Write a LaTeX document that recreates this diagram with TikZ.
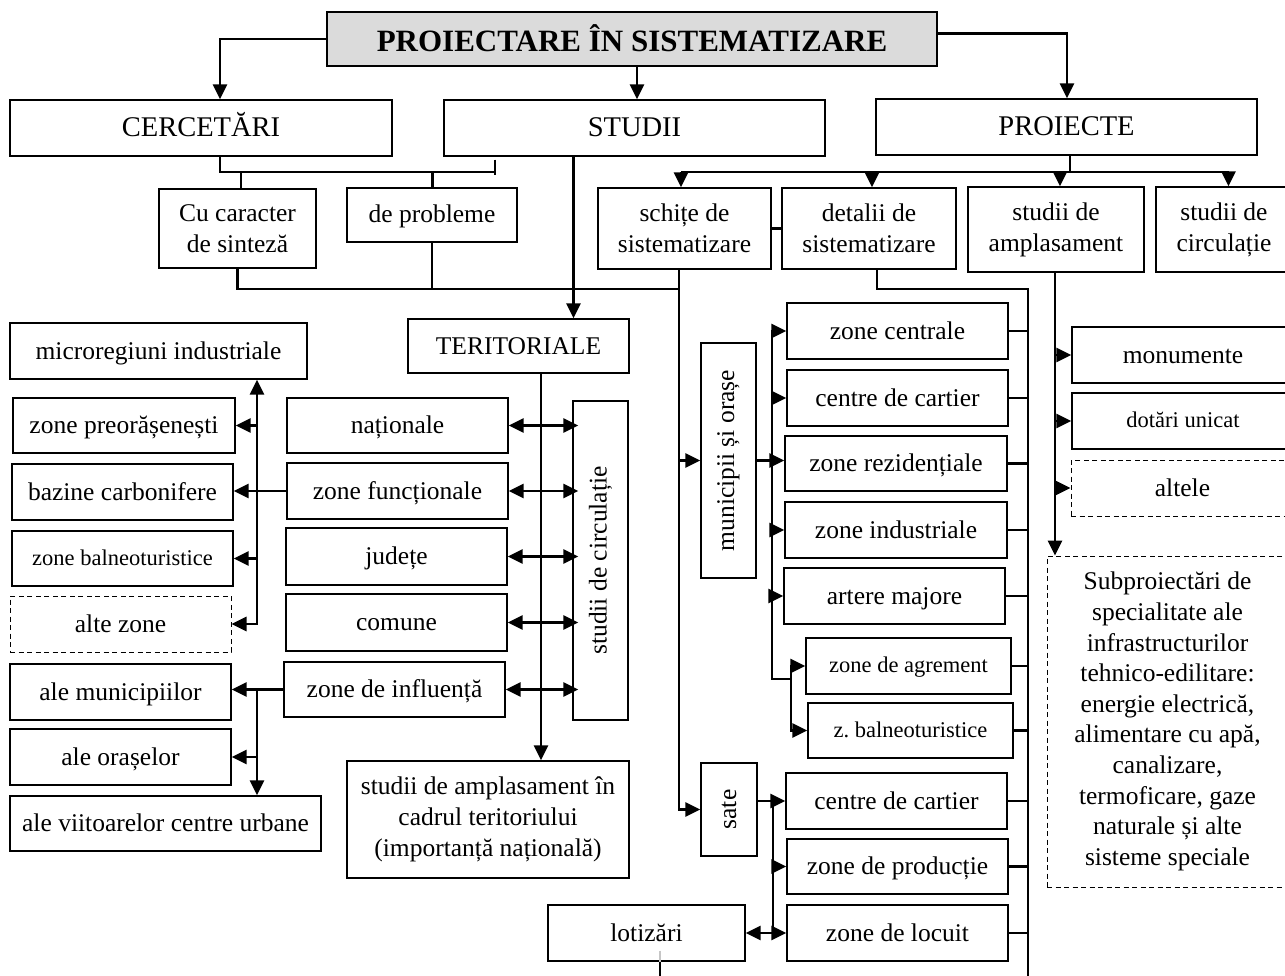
\documentclass[tikz,border=0pt]{standalone}
\usepackage{fontspec}
\setmainfont{Liberation Serif}
\usepackage{graphicx}
\usetikzlibrary{arrows.meta,calc}
\frenchspacing

% text sizes (1pt = 1 unit of the drawing)
\newcommand\txtN{\fontsize{25.5}{31}\selectfont}
\newcommand\txtH{\fontsize{28.5}{34}\selectfont}
\newcommand\txtS{\fontsize{22.5}{27}\selectfont}
\newcommand\txtP{\fontsize{25.5}{30.6}\selectfont}
\newcommand\txtT{\fontsize{31}{36}\selectfont\bfseries}

\begin{document}
\begin{tikzpicture}[x=1pt,y=-1pt,
  rect/.style args={#1/#2/#3/#4}{minimum width={#3-#1}, minimum height={#4-#2},
                                 at={({(#1+#3)/2},{(#2+#4)/2})}},
  base/.style={draw, line width=1.4pt, fill=white, inner sep=0pt, align=center},
  box/.style={base, font=\txtN, text height=20pt, text depth=4pt},
  mbox/.style={base, font=\txtN},
  head/.style={base, font=\txtH, text height=22pt, text depth=4pt},
  tbox/.style={base, font=\txtS, text height=17pt, text depth=4pt},
  dashy/.style={dashed, line width=1pt, dash pattern=on 5pt off 3.5pt},
  conn/.style={line width=2.9pt},
  >={Triangle[length=15pt,width=14pt]}]

\useasboundingbox (0,0) rectangle (1285,976);
\fill[white] (0,0) rectangle (1285,976);

% ---- boxes ----
\node[base, fill=gray!28, font=\txtT, text height=28pt, text depth=3pt, rect=327/12/937/66] (title) {PROIECTARE ÎN SISTEMATIZARE};
\node[head, rect=10/100/392/156] (cerc) {CERCETĂRI};
\node[head, rect=444/100/825/156] (studii) {STUDII};
\node[head, rect=876/99/1257/155] (proiecte) {PROIECTE};

\node[mbox, rect=159/189/316/268] (sinteza) {Cu caracter\\de sinteză};
\node[box, rect=347/188/517/242] (probleme) {de probleme};
\node[mbox, rect=598/188/771/269] (schite) {schițe de\\sistematizare};
\node[mbox, rect=782/188/956/269] (detalii) {detalii de\\sistematizare};
\node[mbox, rect=968/187/1144/272] (amplas) {studii de\\amplasament};
\node[mbox, rect=1156/187/1292/272] (circP) {studii de\\circulație};

\node[box, rect=10/323/307/379] (microreg) {microregiuni industriale};
\node[box, rect=408/319/629/373] (terit) {TERITORIALE};
\node[box, rect=13/398/235/453] (preoras) {zone preorășenești};
\node[box, rect=12/464/233/520] (bazine) {bazine carbonifere};
\node[tbox, rect=12/531/233/586] (balneo) {zone balneoturistice};
\node[box, dashy, rect=10/596/231/652] (alte) {alte zone};
\node[box, rect=287/398/508/453] (nat) {naționale};
\node[box, rect=287/463/508/519] (func) {zone funcționale};
\node[box, rect=286/528/507/585] (judete) {județe};
\node[box, rect=286/594/507/651] (comune) {comune};
\node[box, rect=284/662/505/717] (influenta) {zone de influență};
\node[mbox, rect=573/401/628/720] (circS) {\rotatebox{90}{studii de circulație}};
\node[mbox, rect=347/761/629/878] (amplT) {studii de amplasament în\\cadrul teritoriului\\(importanță națională)};
\node[box, rect=10/664/231/720] (muni) {ale municipiilor};
\node[box, rect=10/729/231/785] (orase) {ale orașelor};
\node[box, rect=10/796/321/851] (viitoare) {ale viitoarelor centre urbane};

\node[mbox, rect=701/343/756/578] (municip) {\rotatebox{90}{municipii și orașe}};
\node[box, rect=787/303/1008/359] (zcentr) {zone centrale};
\node[box, rect=787/370/1008/426] (ccart) {centre de cartier};
\node[box, rect=785/436/1007/491] (zrez) {zone rezidențiale};
\node[box, rect=785/502/1007/558] (zind) {zone industriale};
\node[box, rect=784/568/1005/624] (artere) {artere majore};
\node[tbox, rect=806/638/1011/694] (agrem) {zone de agrement};
\node[tbox, rect=808/703/1013/758] (zbalneo) {z. balneoturistice};
\node[mbox, rect=701/763/757/856] (sate) {\rotatebox{90}{sate}};
\node[box, rect=786/773/1007/829] (ccart2) {centre de cartier};
\node[box, rect=787/839/1008/894] (zprod) {zone de producție};
\node[box, rect=787/905/1008/961] (zloc) {zone de locuit};
\node[box, rect=548/905/745/961] (lotiz) {lotizări};

\node[box, rect=1072/327/1294/383] (monum) {monumente};
\node[tbox, rect=1072/393/1294/449] (dotari) {dotări unicat};
\node[box, dashy, rect=1071/460/1294/516] (altele) {altele};
\node[mbox, dashy, font=\txtP, rect=1047/556/1288/887] (subpro) {Subproiectări de\\specialitate ale\\infrastructurilor\\tehnico-edilitare:\\energie electrică,\\alimentare cu apă,\\canalizare,\\termoficare, gaze\\naturale și alte\\sisteme speciale};

% ---- bus positions ----
\coordinate (xC) at (220,0);
\coordinate (xT) at (637,0);
\coordinate (xP) at (1067,0);
\coordinate (yB) at (0,172);
\coordinate (xS) at (495,0);
\coordinate (xCu) at (241,0);
\coordinate (xPb) at (432.5,0);
\coordinate (yM) at (0,289);
\coordinate (xL) at (679,0);
\coordinate (xSt) at (573.5,0);
\coordinate (xPd) at (1070,0);
\coordinate (xA1) at (681,0);
\coordinate (xA2) at (872,0);
\coordinate (xA3) at (1060,0);
\coordinate (xA4) at (1228.5,0);
\coordinate (xTe) at (541,0);
\coordinate (xLb) at (257,0);
\coordinate (xMb) at (772,0);
\coordinate (yAg) at (0,679);
\coordinate (xAg) at (791,0);
\coordinate (xRb) at (1028,0);
\coordinate (xDt) at (877,0);
\coordinate (xAm) at (1055,0);
\coordinate (xSb) at (773,0);
\coordinate (xLo) at (660,0);
\coordinate (yEnd) at (0,980);

% ---- top level ----
\draw[conn,->] (title.west) -| (xC |- cerc.north);
\draw[conn,->] (xT |- title.south) -- (xT |- studii.north);
\draw[conn,->] ($(title.north east)+(0,22)$) -| (xP |- proiecte.north);

% ---- cercetari / studii bracket ----
\draw[conn] (xC |- cerc.south) |- (xS |- yB);
\draw[conn] ($(xS |- studii.south)+(0,3)$) -- ($(xS |- yB)+(0,3)$);
\draw[conn] (xCu |- yB) -- (xCu |- sinteza.north);
\draw[conn] (xPb |- yB) -- (xPb |- probleme.north);
\draw[conn] (sinteza.south) |- (xL |- yM);
\draw[conn] (probleme.south) -- (probleme.south |- yM);
\draw[conn,->] (xL |- schite.south) |- (sate.west);
\draw[conn,->] (xL |- municip.west) -- (municip.west);
\draw[conn,->] (xSt |- studii.south) -- (xSt |- terit.north);

% ---- proiecte ----
\draw[conn] (xPd |- proiecte.south) -- (xPd |- yB);
\draw[conn] (xA1 |- yB) -- (xA4 |- yB);
\foreach \cx/\n in {xA1/schite, xA2/detalii, xA3/amplas, xA4/circP}
  \draw[conn,->] (\cx |- yB) -- (\cx |- \n.north);
\draw[conn] (schite.east) -- (detalii.west);

% ---- teritoriale ----
\draw[conn,->] (xTe |- terit.south) -- (xTe |- amplT.north);
\foreach \n in {nat,func,judete,comune,influenta}
  \draw[conn,<->] (\n.east) -- ($(circS.west |- \n.east)+(6,0)$);

% ---- left column ----
\draw[conn,<->] (xLb |- microreg.south) -- (xLb |- alte.east) -- (alte.east);
\draw[conn,->] (xLb |- preoras.east) -- (preoras.east);
\draw[conn,->] (xLb |- balneo.east) -- (balneo.east);
\draw[conn,->] (func.west) -- (bazine.east |- func.west);
\draw[conn,->] (influenta.west) -- (muni.east |- influenta.west);
\draw[conn,->] (xLb |- influenta.west) -- (xLb |- viitoare.north);
\draw[conn,->] (xLb |- orase.east) -- (orase.east);

% ---- municipii si orase ----
\draw[conn,->] (municip.east) -- (zrez.west |- municip.east);
\draw[conn,->] (xAg |- yAg) -| (xMb |- zcentr.west) -- (zcentr.west);
\foreach \n in {ccart,zind,artere}
  \draw[conn,->] (xMb |- \n.west) -- (\n.west);
\draw[conn,<->] (agrem.west) -| (xAg |- zbalneo.west) -- (zbalneo.west);

% ---- detalii de sistematizare bus ----
\draw[conn] (xDt |- detalii.south) |- (xRb |- yM) -- (xRb |- yEnd);
\foreach \n in {zcentr,ccart,zrez,zind,artere,agrem,zbalneo,ccart2,zprod,zloc}
  \draw[conn] (\n.east) -- (xRb |- \n.east);

% ---- studii de amplasament ----
\draw[conn,->] (xAm |- amplas.south) -- (xAm |- subpro.north);
\foreach \n in {monum,dotari,altele}
  \draw[conn,->] (xAm |- \n.west) -- (\n.west);

% ---- sate ----
\draw[conn,->] (sate.east |- ccart2.west) -- (ccart2.west);
\draw[conn] (xSb |- ccart2.west) -- (xSb |- zloc.west);
\draw[conn,->] (xSb |- zprod.west) -- (zprod.west);
\draw[conn,<->] (lotiz.east) -- (zloc.west |- lotiz.east);
\draw[gray!45, line width=1.5pt] ($(xLo |- lotiz.south)+(0,-11)$) -- (xLo |- lotiz.south);
\draw[conn] (xLo |- lotiz.south) -- (xLo |- yEnd);

\end{tikzpicture}
\end{document}
